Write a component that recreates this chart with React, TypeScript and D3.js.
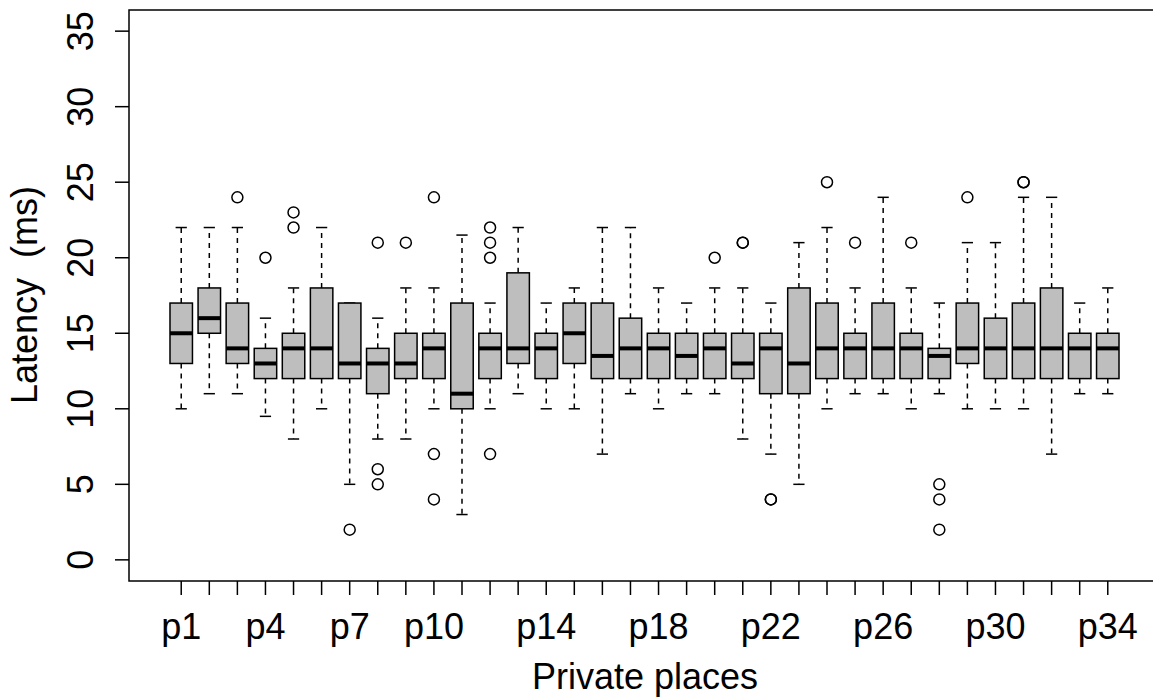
import React from 'react'
import * as d3 from 'd3'

// one entry per private place p1..p34
const places = d3.range(1, 35).map(i => `p${i}`)
const whiskerLow = [10, 11, 11, 9.5, 8, 10, 5, 8, 8, 10, 3, 10, 11, 10, 10, 7, 11, 10, 11, 11, 8, 7, 5, 10, 11, 11, 10, 11, 10, 10, 10, 7, 11, 11]
const q1 = [13, 15, 13, 12, 12, 12, 12, 11, 12, 12, 10, 12, 13, 12, 13, 12, 12, 12, 12, 12, 12, 11, 11, 12, 12, 12, 12, 12, 13, 12, 12, 12, 12, 12]
const medians = [15, 16, 14, 13, 14, 14, 13, 13, 13, 14, 11, 14, 14, 14, 15, 13.5, 14, 14, 13.5, 14, 13, 14, 13, 14, 14, 14, 14, 13.5, 14, 14, 14, 14, 14, 14]
const q3 = [17, 18, 17, 14, 15, 18, 17, 14, 15, 15, 17, 15, 19, 15, 17, 17, 16, 15, 15, 15, 15, 15, 18, 17, 15, 17, 15, 14, 17, 16, 17, 18, 15, 15]
const whiskerHigh = [22, 22, 22, 16, 18, 22, 17, 16, 18, 18, 21.5, 17, 22, 17, 18, 22, 22, 18, 17, 18, 18, 17, 21, 22, 18, 24, 18, 17, 21, 21, 24, 24, 17, 18]
const outliers = [
  [], [], [24], [20], [23, 22], [], [2], [21, 6, 5], [21], [24, 7, 4],
  [], [22, 21, 20, 7], [], [], [], [], [], [], [], [20],
  [21, 21], [4, 4], [], [25], [21], [], [21], [5, 4, 2], [24], [],
  [25, 25], [], [], [],
]
const yTicks = [0, 5, 10, 15, 20, 25, 30, 35]
const shownLabels = ['p1', 'p4', 'p7', 'p10', 'p14', 'p18', 'p22', 'p26', 'p30', 'p34']

const W = 1153
const H = 697
const font = '"Liberation Sans", Arial, Helvetica, sans-serif'

export default function App() {
  const plot = { left: 129, right: 1160, top: 10, bottom: 581 }
  const n = places.length
  const xr = n * 0.04
  const x = d3.scaleLinear().domain([0.5 - xr, n + 0.5 + xr]).range([plot.left, plot.right])
  const y = d3.scaleLinear().domain([-1.4, 36.4]).range([plot.bottom, plot.top])
  const bw = x(1.4) - x(0.6)
  const sw = bw / 2

  return (
    <svg width={W} height={H} style={{ position: 'absolute', left: 0, top: 0, background: '#fff' }} fontFamily={font}>
      {places.map((p, i) => {
        const cx = x(i + 1)
        return (
          <g key={p}>
            {/* whiskers */}
            <line x1={cx} x2={cx} y1={y(q3[i])} y2={y(whiskerHigh[i])} stroke="#000" strokeWidth={1.5} strokeDasharray="5,5" />
            <line x1={cx} x2={cx} y1={y(q1[i])} y2={y(whiskerLow[i])} stroke="#000" strokeWidth={1.5} strokeDasharray="5,5" />
            <line x1={cx - sw / 2} x2={cx + sw / 2} y1={y(whiskerHigh[i])} y2={y(whiskerHigh[i])} stroke="#000" strokeWidth={1.5} />
            <line x1={cx - sw / 2} x2={cx + sw / 2} y1={y(whiskerLow[i])} y2={y(whiskerLow[i])} stroke="#000" strokeWidth={1.5} />
            <rect x={cx - bw / 2} y={y(q3[i])} width={bw} height={y(q1[i]) - y(q3[i])} fill="#bebebe" stroke="#000" strokeWidth={1.5} />
            <line x1={cx - bw / 2} x2={cx + bw / 2} y1={y(medians[i])} y2={y(medians[i])} stroke="#000" strokeWidth={4} />
            {outliers[i].map((v, j) => (
              <circle key={j} cx={cx} cy={y(v)} r={5.5} fill="none" stroke="#000" strokeWidth={1.5} />
            ))}
          </g>
        )
      })}

      {/* frame */}
      <rect x={plot.left} y={plot.top} width={plot.right - plot.left} height={plot.bottom - plot.top} fill="none" stroke="#000" strokeWidth={1.5} />

      {/* y axis */}
      {yTicks.map(t => (
        <g key={t}>
          <line x1={plot.left - 14} x2={plot.left} y1={y(t)} y2={y(t)} stroke="#000" strokeWidth={1.5} />
          <text transform={`translate(93,${y(t)}) rotate(-90)`} textAnchor="middle" fontSize={36}>{t}</text>
        </g>
      ))}

      {/* x axis */}
      {places.map((p, i) => (
        <line key={p} x1={x(i + 1)} x2={x(i + 1)} y1={plot.bottom} y2={plot.bottom + 14} stroke="#000" strokeWidth={1.5} />
      ))}
      {shownLabels.map(l => (
        <text key={l} x={x(places.indexOf(l) + 1)} y={639} textAnchor="middle" fontSize={36}>{l}</text>
      ))}

      <text x={645} y={689} textAnchor="middle" fontSize={36}>Private places</text>
      <text transform="translate(37,295) rotate(-90)" textAnchor="middle" fontSize={36} style={{ whiteSpace: 'pre' }}>Latency  (ms)</text>
    </svg>
  )
}
